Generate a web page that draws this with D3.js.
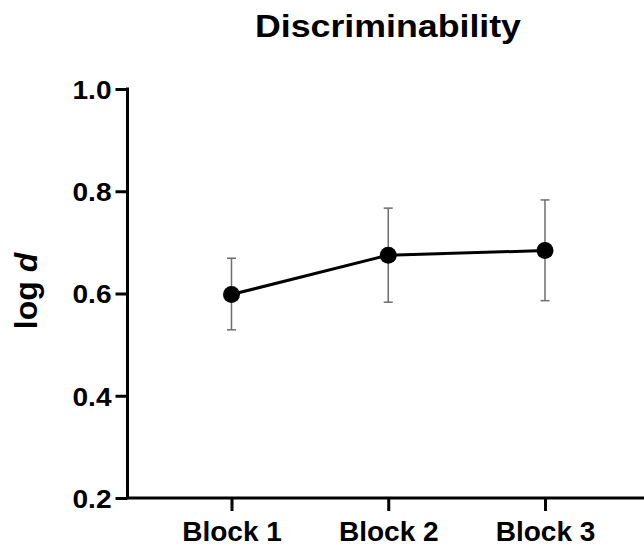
<!DOCTYPE html>
<html>
<head>
<meta charset="utf-8">
<script src="https://cdn.jsdelivr.net/npm/d3@7"></script>
<style>
  html, body { margin: 0; padding: 0; background: #fff; }
  svg { display: block; font-family: "Liberation Sans", Arial, sans-serif; }
</style>
</head>
<body>
<svg id="chart" width="644" height="546"></svg>
<script>
const categories = ["Block 1", "Block 2", "Block 3"];
const means = [0.598, 0.675, 0.684];
const upper = [0.669, 0.767, 0.783];
const lower = [0.529, 0.583, 0.586];
const yTicks = [0.2, 0.4, 0.6, 0.8, 1.0];
const titleText = "Discriminability";

const svg = d3.select("#chart");
const x = d3.scalePoint().domain(categories).range([231.5, 545]);
const y = d3.scaleLinear().domain([0.2, 1.0]).range([498, 89]);

const data = categories.map((c, i) => ({ c, m: means[i], hi: upper[i], lo: lower[i] }));

// Title
svg.append("text")
  .attr("x", 388).attr("y", 37)
  .attr("text-anchor", "middle")
  .attr("font-size", 31).attr("font-weight", "bold")
  .attr("textLength", 266).attr("lengthAdjust", "spacingAndGlyphs")
  .text(titleText);

// Y axis label
const yl = svg.append("text")
  .attr("transform", "translate(36.5,291) rotate(-90)")
  .attr("text-anchor", "middle")
  .attr("font-size", 32).attr("font-weight", "bold");
yl.append("tspan").text("log ");
yl.append("tspan").attr("font-style", "italic").text("d");

// Y axis
const yAxis = svg.append("g")
  .attr("transform", "translate(127.5,0)")
  .call(d3.axisLeft(y).tickValues(yTicks).tickFormat(d3.format(".1f")).tickSize(12).tickSizeOuter(0).tickPadding(4));
yAxis.select(".domain").attr("stroke", "#000").attr("stroke-width", 3).attr("d", "M0,87.5V499");
yAxis.selectAll(".tick line").attr("stroke", "#000").attr("stroke-width", 3);
yAxis.selectAll(".tick text")
  .attr("font-size", 26).attr("font-weight", "bold").attr("fill", "#000")
  .attr("font-family", "Liberation Sans, Arial, sans-serif")
  .attr("textLength", 39).attr("lengthAdjust", "spacingAndGlyphs")
  .attr("dy", "0.36em");

// X axis
const xAxis = svg.append("g")
  .attr("transform", "translate(0,498)")
  .call(d3.axisBottom(x).tickSize(13).tickSizeOuter(0).tickPadding(10));
xAxis.select(".domain").attr("stroke", "#000").attr("stroke-width", 3).attr("d", "M126,0H644");
xAxis.selectAll(".tick line").attr("stroke", "#000").attr("stroke-width", 3);
xAxis.selectAll(".tick text")
  .attr("font-size", 28).attr("font-weight", "bold").attr("fill", "#000")
  .attr("font-family", "Liberation Sans, Arial, sans-serif")
  .attr("dy", "0.71em");

// Error bars
const eb = svg.append("g").attr("stroke", "#6e6e6e").attr("stroke-width", 1.5).attr("fill", "none");
data.forEach(d => {
  const cx = x(d.c);
  eb.append("line").attr("x1", cx).attr("x2", cx).attr("y1", y(d.hi)).attr("y2", y(d.lo));
  eb.append("line").attr("x1", cx - 4.5).attr("x2", cx + 4.5).attr("y1", y(d.hi)).attr("y2", y(d.hi));
  eb.append("line").attr("x1", cx - 4.5).attr("x2", cx + 4.5).attr("y1", y(d.lo)).attr("y2", y(d.lo));
});

// Line
svg.append("path")
  .datum(data)
  .attr("fill", "none").attr("stroke", "#000").attr("stroke-width", 3)
  .attr("d", d3.line().x(d => x(d.c)).y(d => y(d.m)));

// Points
svg.selectAll("circle.pt").data(data).enter().append("circle")
  .attr("class", "pt")
  .attr("cx", d => x(d.c)).attr("cy", d => y(d.m)).attr("r", 8.5)
  .attr("fill", "#000");
</script>
</body>
</html>
